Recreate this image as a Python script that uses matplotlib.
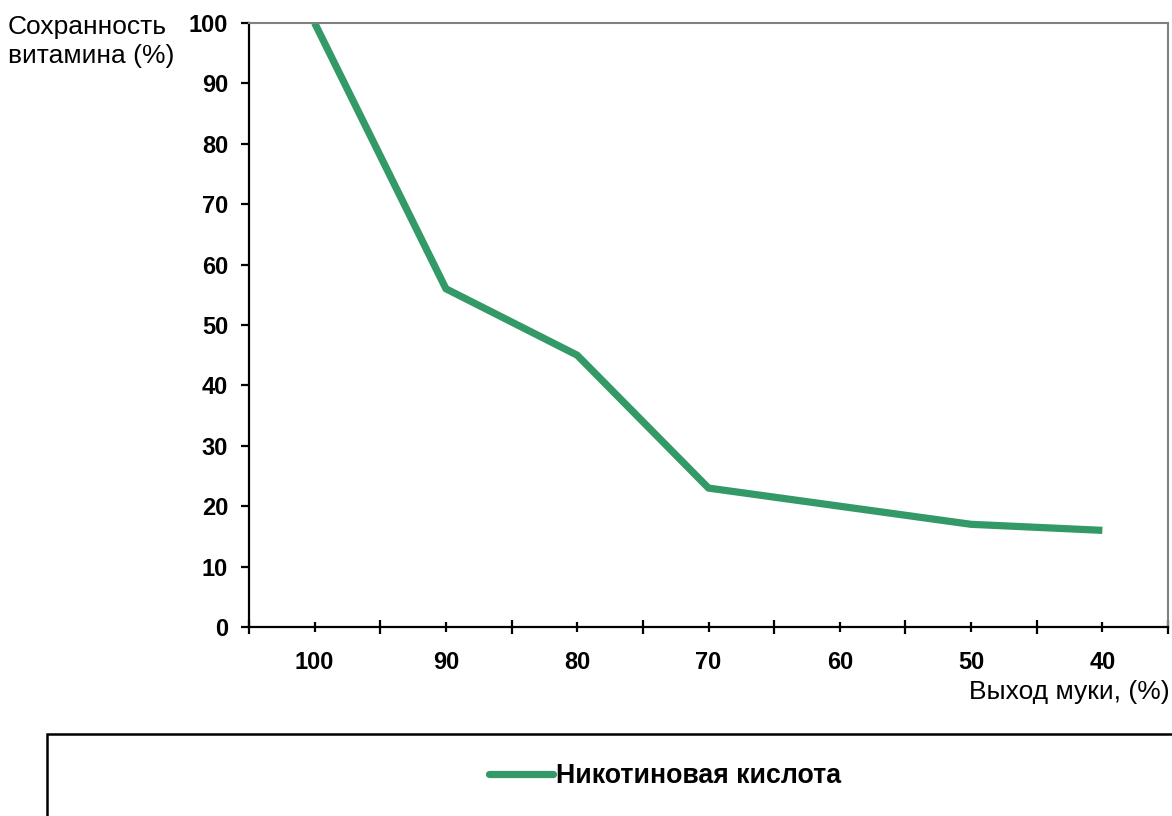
import matplotlib.pyplot as plt
from matplotlib.patches import Rectangle
from matplotlib.ticker import FixedLocator

# Данные
vyhod = ["100", "90", "80", "70", "60", "50", "40"]
sohrannost = [100, 56, 45, 23, 20, 17, 16]
y_ticks = [0, 10, 20, 30, 40, 50, 60, 70, 80, 90, 100]

plt.rcParams['font.family'] = ['Liberation Sans', 'DejaVu Sans']

fig = plt.figure(figsize=(11.72, 8.16), dpi=100)
ax = fig.add_axes([249 / 1172, 189 / 816, 919 / 1172, 604 / 816])

green = "#339966"
x = list(range(len(vyhod)))
line, = ax.plot(x, sohrannost, color=green, linewidth=5.2, solid_capstyle="butt",
                label="Никотиновая кислота")

ax.set_xlim(-0.5, len(vyhod) - 0.5)
ax.set_ylim(0, 100)

# Оси
for s in ["left", "bottom"]:
    ax.spines[s].set_color("black")
    ax.spines[s].set_linewidth(1.6)
for s in ["top", "right"]:
    ax.spines[s].set_color("#808080")
    ax.spines[s].set_linewidth(1.5)

ax.set_yticks(y_ticks)
ax.set_yticklabels([str(v) for v in y_ticks], fontsize=17, fontweight="bold")
ax.tick_params(axis="y", direction="out", length=6, width=1.6, pad=9)

# Деления по границам категорий (главные) и подписи в центрах (второстепенные)
ax.xaxis.set_major_locator(FixedLocator([i - 0.5 for i in range(len(vyhod) + 1)]))
ax.xaxis.set_major_formatter(plt.NullFormatter())
ax.xaxis.set_minor_locator(FixedLocator(x))
ax.set_xticklabels(vyhod, minor=True, fontsize=17, fontweight="bold")
ax.tick_params(axis="x", which="major", direction="inout", length=10, width=1.6)
ax.tick_params(axis="x", which="minor", direction="inout", length=7, width=1.6, pad=14)

# Подписи осей
fig.text(8 / 1172, 1 - 15 / 816, "Сохранность\nвитамина (%)", ha="left", va="top",
         fontsize=19, linespacing=1.25)
fig.text(1170 / 1172, 1 - 692 / 816, "Выход муки, (%)", ha="right", va="center",
         fontsize=19)

# Рамка легенды
fig.patches.append(Rectangle((47 / 1172, -0.05), 1.2, (816 - 734) / 816 + 0.05,
                             transform=fig.transFigure, fill=False,
                             edgecolor="black", linewidth=1.8))
leg = fig.legend(loc="center", bbox_to_anchor=(665 / 1172, 1 - 776 / 816), frameon=False,
                 prop={"size": 19.3, "weight": "bold"}, handlelength=2.4,
                 handletextpad=0.1)
for h in leg.get_lines():
    h.set_solid_capstyle("round")

fig.savefig("out.png", dpi=100)
